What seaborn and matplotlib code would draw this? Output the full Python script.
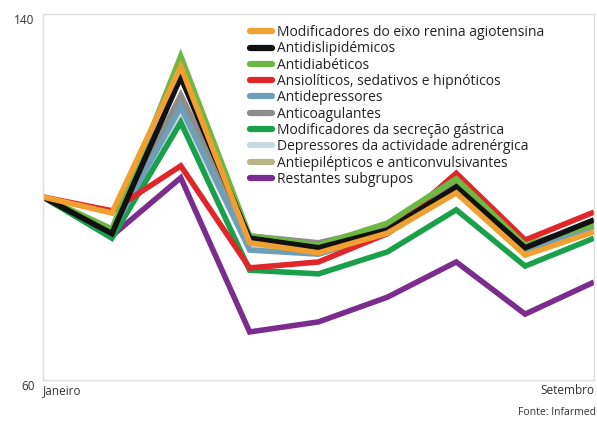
import matplotlib
matplotlib.use("Agg")
import matplotlib.pyplot as plt
import seaborn as sns
import pandas as pd
from matplotlib.lines import Line2D

months = ["Janeiro", "Fevereiro", "Março", "Abril", "Maio", "Junho", "Julho", "Agosto", "Setembro"]
categories = [
    "Modificadores do eixo renina agiotensina",
    "Antidislipidémicos",
    "Antidiabéticos",
    "Ansiolíticos, sedativos e hipnóticos",
    "Antidepressores",
    "Anticoagulantes",
    "Modificadores da secreção gástrica",
    "Depressores da actividade adrenérgica",
    "Antiepilépticos e anticonvulsivantes",
    "Restantes subgrupos",
]
modificadores_renina = [100, 96.5, 128.5, 90.0, 87.8, 92.1, 100.9, 87.3, 92.4]
antidislipidemicos = [100, 92.0, 126.2, 91.0, 88.9, 92.8, 102.2, 88.9, 95.0]
antidiabeticos = [100, 93.0, 130.8, 91.5, 89.5, 94.3, 104.0, 89.5, 94.0]
ansioliticos = [100, 97.0, 106.8, 84.5, 85.8, 92.0, 105.2, 90.6, 96.7]
antidepressores = [100, 92.5, 119.7, 88.4, 87.5, 92.0, 101.5, 88.0, 93.5]
anticoagulantes = [100, 92.5, 122.3, 91.5, 90.0, 93.5, 103.0, 89.5, 94.0]
secrecao_gastrica = [100, 91.0, 116.3, 84.0, 83.2, 88.0, 97.2, 84.9, 91.0]
depressores_adrenergica = [100, 92.5, 117.8, 89.0, 88.0, 92.5, 102.0, 88.0, 93.4]
antiepilepticos = [100, 93.0, 121.0, 91.0, 89.5, 93.5, 103.0, 87.8, 93.8]
restantes = [100, 91.5, 104.2, 70.5, 72.7, 78.1, 85.8, 74.4, 81.4]

series = [modificadores_renina, antidislipidemicos, antidiabeticos, ansioliticos,
          antidepressores, anticoagulantes, secrecao_gastrica, depressores_adrenergica,
          antiepilepticos, restantes]
colors = ["#F0A030", "#111111", "#6DB843", "#E0262B", "#6E9EB8", "#8C8C8C",
          "#1AA04A", "#C8D8E0", "#B8B58A", "#7B2D8E"]

rows = []
for cat, vals in zip(categories, series):
    for i, (m, v) in enumerate(zip(months, vals)):
        rows.append({"idx": i, "mes": m, "cat": cat, "valor": v})
df = pd.DataFrame(rows)

sns.set_theme(style="white")
plt.rcParams['font.family'] = ['Open Sans', 'DejaVu Sans']

fig = plt.figure(figsize=(5.97, 4.23), dpi=100)
ax = fig.add_axes([43 / 597, 43 / 423, 551 / 597, 366 / 423])

palette = dict(zip(categories, colors))
# draw in reverse order so the first legend entries lie on top
for cat in reversed(categories):
    sub = df[df["cat"] == cat]
    sns.lineplot(data=sub, x="idx", y="valor", color=palette[cat], linewidth=4.0,
                 ax=ax, legend=False, sort=True, solid_joinstyle="miter",
                 solid_capstyle="butt")

ax.set_xlim(0, 8)
ax.set_ylim(60, 140)
ax.set_xlabel("")
ax.set_ylabel("")
ax.set_yticks([60, 140])
ax.set_yticklabels(["60", "140"], fontsize=8.5, color="#333333")
for lab in ax.get_yticklabels():
    lab.set_verticalalignment("top")
ax.set_xticks([0, 8])
ax.set_xticklabels(["Janeiro", "Setembro"], fontsize=8.5, color="#333333")
xl = ax.get_xticklabels()
xl[0].set_horizontalalignment("left")
xl[1].set_horizontalalignment("right")
ax.tick_params(axis="both", length=0, pad=3)
ax.tick_params(axis="y", pad=6)
for s in ax.spines.values():
    s.set_color("#dddddd")
    s.set_linewidth(1.0)
ax.grid(False)

handles = [Line2D([0], [0], color=c, linewidth=4.5, solid_capstyle="round") for c in colors]
leg = ax.legend(handles, categories, loc="upper left", bbox_to_anchor=(0.365, 0.985),
                frameon=False, fontsize=10, handlelength=1.6, handletextpad=0.36,
                labelspacing=0.095, borderaxespad=0.0)
for t in leg.get_texts():
    t.set_color("#222222")

fig.text(596 / 597, 5 / 423, "Fonte: Infarmed", ha="right", va="bottom", fontsize=7.5, color="#333333")

fig.savefig("out.png", dpi=100)
